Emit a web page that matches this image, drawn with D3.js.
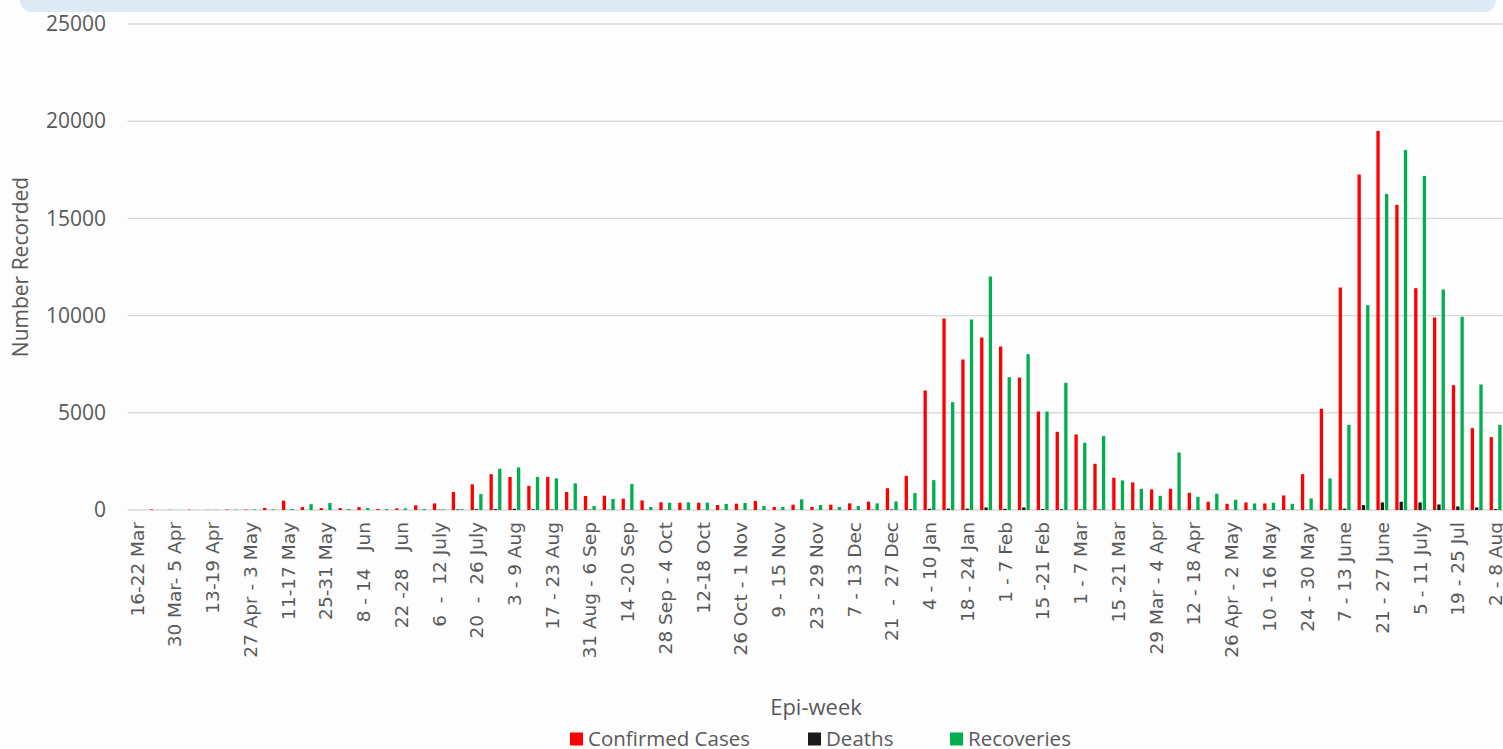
<!DOCTYPE html>
<html>
<head>
<meta charset="utf-8">
<script src="https://cdn.jsdelivr.net/npm/d3@7"></script>
<style>
  html, body { margin: 0; padding: 0; background: #fdfdfd; }
  svg { display: block; }
</style>
</head>
<body>
<div id="chartContainer"></div>
<script>
// epi-weeks, 16 Mar 2020 .. 8 Aug 2021 (only every other one is labelled)
var weeks = [
  "16-22 Mar", "23-29 Mar", "30 Mar- 5 Apr", "6-12 Apr", "13-19 Apr", "20-26 Apr",
  "27 Apr - 3 May", "4-10 May", "11-17 May", "18-24 May", "25-31 May", "1-7 Jun",
  "8 - 14   Jun", "15-21 Jun", "22 -28   Jun", "29 Jun - 5 July", "6  -  12 July", "13-19 July",
  "20  -  26 July", "27 July - 2 Aug", "3 - 9 Aug", "10-16 Aug", "17 - 23 Aug", "24-30 Aug",
  "31 Aug - 6 Sep", "7-13 Sep", "14 -20 Sep", "21-27 Sep", "28 Sep - 4 Oct", "5-11 Oct",
  "12-18 Oct", "19-25 Oct", "26 Oct - 1 Nov", "2-8 Nov", "9 - 15 Nov", "16-22 Nov",
  "23 - 29 Nov", "30 Nov - 6 Dec", "7 - 13 Dec", "14-20 Dec", "21  -  27 Dec", "28 Dec - 3 Jan",
  "4 - 10 Jan", "11-17 Jan", "18 - 24 Jan", "25-31 Jan", "1 - 7 Feb", "8-14 Feb",
  "15 -21 Feb", "22-28 Feb", "1 - 7 Mar", "8-14 Mar", "15 -21 Mar", "22-28 Mar",
  "29 Mar - 4 Apr", "5-11 Apr", "12 - 18 Apr", "19-25 Apr", "26 Apr - 2 May", "3-9 May",
  "10 - 16 May", "17-23 May", "24 - 30 May", "31 May - 6 June", "7 - 13 June", "14-20 June",
  "21 - 27 June", "28 June - 4 July", "5 - 11 July", "12-18 July", "19 - 25 Jul", "26 Jul - 1 Aug",
  "2 - 8 Aug"
];

var confirmed = [
  3, 30, 10, 15, 10, 25, 20, 110, 480, 150, 100, 100,
  150, 50, 80, 240, 340, 925, 1320, 1840, 1700, 1240, 1700, 925,
  720, 735, 580, 495, 395, 375, 375, 257, 325, 462, 155, 275,
  155, 275, 342, 428, 1120, 1755, 6148, 9850, 7742, 8873, 8411, 6817,
  5068, 4023, 3886, 2377, 1657, 1417, 1058, 1092, 886, 423, 320, 389,
  338, 749, 1846, 5205, 11444, 17255, 19500, 15695, 11410, 9902, 6422, 4211,
  3749
];

var deaths = [
  0, 0, 1, 1, 2, 2, 3, 3, 5, 3, 2, 3,
  4, 2, 3, 5, 15, 30, 40, 50, 60, 40, 30, 25,
  20, 15, 10, 10, 8, 8, 6, 5, 5, 5, 4, 5,
  6, 8, 10, 15, 30, 40, 60, 70, 70, 130, 60, 130,
  55, 40, 30, 25, 20, 15, 15, 12, 10, 8, 8, 8,
  10, 10, 12, 30, 70, 252, 389, 423, 389, 286, 183, 132,
  50
];

var recoveries = [
  0, 0, 2, 5, 10, 20, 30, 30, 50, 300, 360, 50,
  100, 50, 80, 50, 30, 40, 820, 2120, 2190, 1700, 1630, 1370,
  205, 565, 1335, 155, 375, 395, 375, 310, 360, 205, 155, 550,
  257, 155, 205, 342, 440, 869, 1537, 5548, 9799, 12010, 6834, 8016,
  5068, 6542, 3457, 3800, 1520, 1092, 732, 2960, 680, 835, 526, 338,
  372, 320, 595, 1623, 4383, 10536, 16261, 18523, 17186, 11342, 9936, 6457,
  4383
];

var seriesNames  = ["Confirmed Cases", "Deaths", "Recoveries"];
var seriesColors = ["#ff0000", "#1a1a1a", "#00b050"];
var yTicks = [0, 5000, 10000, 15000, 20000, 25000];

var rows = weeks.map(function(w, i) {
  return {week: w, values: [confirmed[i], deaths[i], recoveries[i]]};
});

var W = 1503, H = 749;
var textColor = "#595959";

var svg = d3.select("#chartContainer")
  .append("svg")
    .attr("width", W)
    .attr("height", H);

// light blue band left over from the page header
svg.append("rect")
  .attr("x", 20).attr("y", -24)
  .attr("width", 1476).attr("height", 36)
  .attr("rx", 12)
  .attr("fill", "#deeaf6");

var x = d3.scaleBand()
  .domain(weeks)
  .range([127.5, 1505])
  .padding(0);

var bw = x.bandwidth();
var cluster = bw * 0.684;
var x1 = d3.scaleBand()
  .domain(seriesNames)
  .range([(bw - cluster) / 2, (bw + cluster) / 2])
  .paddingInner(0.23)
  .paddingOuter(0.115);

var y = d3.scaleLinear()
  .domain([0, 25000])
  .range([510, 24]);

// gridlines
svg.append("g")
  .selectAll("line")
  .data(yTicks)
  .join("line")
    .attr("x1", 127.5)
    .attr("x2", W)
    .attr("y1", function(d) { return y(d); })
    .attr("y2", function(d) { return y(d); })
    .attr("stroke", "#d9d9d9")
    .attr("stroke-width", 1.4);

// Y axis labels
var yAxis = svg.append("g")
  .attr("transform", "translate(106,0)")
  .call(d3.axisLeft(y).tickValues(yTicks).tickFormat(d3.format("d")).tickSize(0).tickPadding(0));
yAxis.select(".domain").remove();
yAxis.attr("font-family", "Open Sans").attr("font-size", 21);
yAxis.selectAll("text")
  .attr("fill", textColor);

// bars
var groups = svg.append("g")
  .selectAll("g")
  .data(rows)
  .join("g")
    .attr("transform", function(d) { return "translate(" + x(d.week) + ",0)"; });

groups.selectAll("rect")
  .data(function(d) { return d.values.map(function(v, k) { return {k: k, v: v}; }); })
  .join("rect")
    .attr("x", function(d) { return x1(seriesNames[d.k]); })
    .attr("width", x1.bandwidth())
    .attr("y", function(d) { return y(d.v); })
    .attr("height", function(d) { return y(0) - y(d.v); })
    .attr("fill", function(d) { return seriesColors[d.k]; });

// X axis labels, every other week
var xAxis = svg.append("g")
  .attr("transform", "translate(0,510)")
  .call(d3.axisBottom(x)
    .tickValues(weeks.filter(function(d, i) { return i % 2 === 0; }))
    .tickSize(0)
    .tickPadding(0));
xAxis.select(".domain").remove();
xAxis.attr("font-family", null).attr("font-size", null);
xAxis.selectAll("text")
  .attr("font-family", "DejaVu Sans")
  .attr("font-size", 18.5)
  .attr("fill", textColor)
  .attr("text-anchor", "end")
  .attr("transform", "translate(0,12) rotate(-90)")
  .attr("x", 0)
  .attr("y", 0)
  .attr("dy", "0.36em")
  .style("white-space", "pre");

// axis titles
svg.append("text")
  .attr("transform", "translate(21,267) rotate(-90)")
  .attr("text-anchor", "middle")
  .attr("dy", "0.35em")
  .attr("fill", textColor)
  .attr("font-family", "Open Sans")
  .attr("font-size", 21)
  .text("Number Recorded");

svg.append("text")
  .attr("x", 816)
  .attr("y", 707)
  .attr("text-anchor", "middle")
  .attr("dy", "0.35em")
  .attr("fill", textColor)
  .attr("font-family", "Open Sans")
  .attr("font-size", 22)
  .text("Epi-week");

// legend
var legendX = [570, 808, 950];
var legend = svg.append("g")
  .selectAll("g")
  .data(seriesNames)
  .join("g")
    .attr("transform", function(d, i) { return "translate(" + legendX[i] + ",739)"; });
legend.append("rect")
  .attr("x", 0).attr("y", -6.5)
  .attr("width", 13).attr("height", 13)
  .attr("fill", function(d, i) { return seriesColors[i]; });
legend.append("text")
  .attr("x", 18)
  .attr("dy", "0.35em")
  .attr("fill", textColor)
  .attr("font-family", "Open Sans")
  .attr("font-size", 20.5)
  .text(function(d) { return d; });
</script>
</body>
</html>
